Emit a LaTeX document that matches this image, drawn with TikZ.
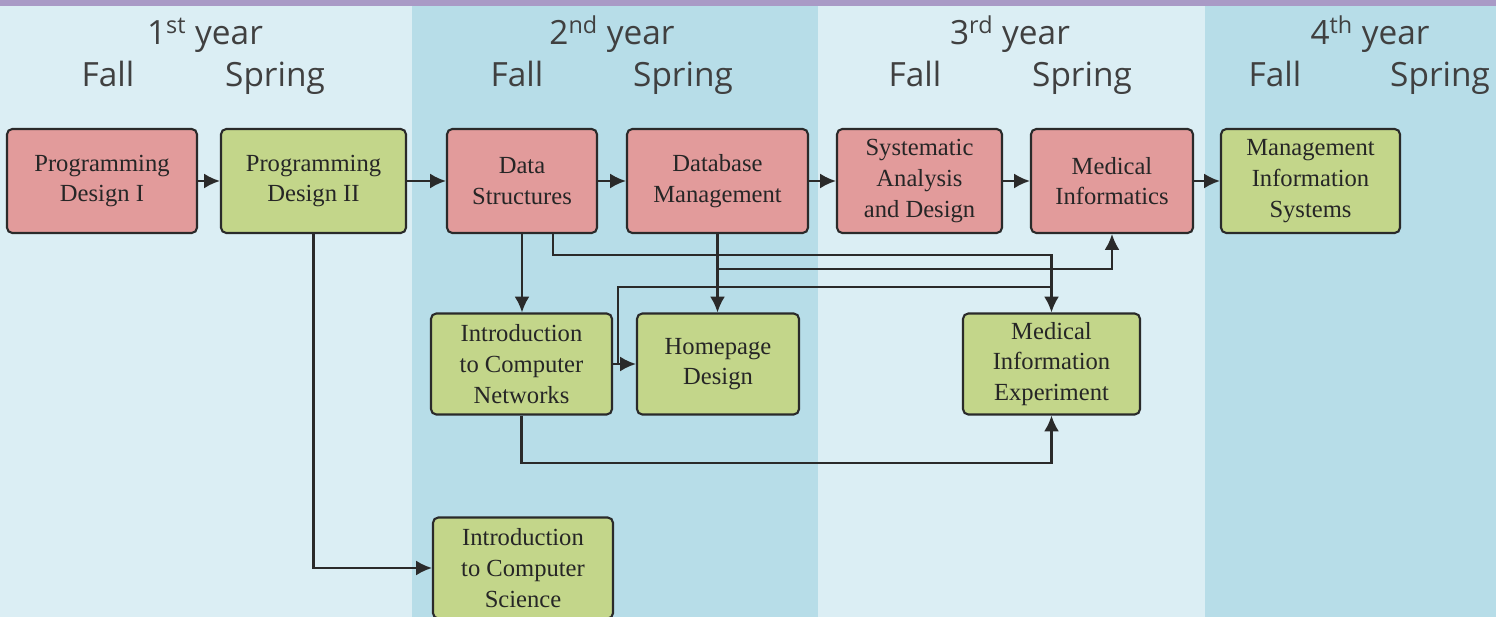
\documentclass[tikz,border=0pt]{standalone}
\usepackage{xcolor}
\usepackage{fontspec}
\setmainfont{Liberation Serif}
\newfontfamily\headfont{Open Sans}
\usepackage{tikz}
\usetikzlibrary{arrows.meta}

\definecolor{colpale}{HTML}{DBEEF4}
\definecolor{coldeep}{HTML}{B7DDE8}
\definecolor{barpurple}{HTML}{A99AC6}
\definecolor{corepink}{HTML}{E29B9B}
\definecolor{electgreen}{HTML}{C3D68A}
\definecolor{boxedge}{HTML}{2A2A2A}
\definecolor{headgray}{HTML}{404040}

\tikzset{
  course/.style={draw=boxedge, line width=1.2pt, rounded corners=3pt, align=center,
    inner sep=0pt, text=black!85, font=\fontsize{14}{17.5}\selectfont},
  core/.style={course, fill=corepink},
  elective/.style={course, fill=electgreen},
  toprow/.style={minimum height=2.08cm},
  lowrow/.style={minimum height=2.02cm},
  yearlbl/.style={anchor=base, text=headgray, font=\headfont\fontsize{19}{22}\selectfont},
  termlbl/.style={anchor=base, text=headgray, font=\headfont\fontsize{19}{22}\selectfont},
  wire/.style={draw=boxedge, line width=1.3pt},
  link/.style={wire, ->, >={Latex[length=9pt,width=8.5pt]}}
}

\begin{document}
\begin{tikzpicture}[x=0.02cm, y=-0.02cm]
    \clip (0,0) rectangle (1496,617);
    % year columns
    \fill[colpale] (0,0) rectangle (412,617);
    \fill[coldeep] (412,0) rectangle (818,617);
    \fill[colpale] (818,0) rectangle (1205,617);
    \fill[coldeep] (1205,0) rectangle (1496,617);
    \fill[barpurple] (0,0) rectangle (1496,6);

    % headers
    \node[yearlbl] (yr1) at (205,45) {1\textsuperscript{st} year};
    \node[yearlbl] (yr2) at (612,45) {2\textsuperscript{nd} year};
    \node[yearlbl] (yr3) at (1010,45) {3\textsuperscript{rd} year};
    \node[yearlbl] (yr4) at (1370,45) {4\textsuperscript{th} year};
    \node[termlbl] (fall1) at (108,87) {Fall};
    \node[termlbl] (spring1) at (275,87) {Spring};
    \node[termlbl] (fall2) at (517,87) {Fall};
    \node[termlbl] (spring2) at (683,87) {Spring};
    \node[termlbl] (fall3) at (915,87) {Fall};
    \node[termlbl] (spring3) at (1082,87) {Spring};
    \node[termlbl] (fall4) at (1275,87) {Fall};
    \node[termlbl] (spring4) at (1440,87) {Spring};

    % courses
    \node[core,toprow,minimum width=3.8cm] (pd1) at (102,181) {Programming\\Design I};
    \node[elective,toprow,minimum width=3.7cm] (pd2) at (313.5,181) {Programming\\Design II};
    \node[core,toprow,minimum width=3.0cm] (ds) at (522,181) {Data\\Structures};
    \node[core,toprow,minimum width=3.62cm] (dbm) at (717.5,181) {Database\\Management};
    \node[core,toprow,minimum width=3.3cm] (sad) at (919.5,181) {Systematic\\Analysis\\and Design};
    \node[core,toprow,minimum width=3.24cm] (mi) at (1112,181) {Medical\\Informatics};
    \node[elective,toprow,minimum width=3.58cm] (mis) at (1310.5,181) {Management\\Information\\Systems};
    \node[elective,lowrow,minimum width=3.62cm] (icn) at (521.5,364) {Introduction\\to Computer\\Networks};
    \node[elective,lowrow,minimum width=3.24cm] (hp) at (718,364) {Homepage\\Design};
    \node[elective,lowrow,minimum width=3.54cm] (mie) at (1051.5,364) {Medical\\Information\\Experiment};
    \node[elective,lowrow,minimum width=3.6cm] (ics) at (523,568) {Introduction\\to Computer\\Science};

    % routing levels
    \coordinate (busA) at (0,255);
    \coordinate (busB) at (0,269);
    \coordinate (busC) at (0,287);
    \coordinate (busD) at (0,463);

    % prerequisites
    \draw[link] (pd1) -- (pd2);
    \draw[link] (pd2) -- (ds);
    \draw[link] (ds) -- (dbm);
    \draw[link] (dbm) -- (sad);
    \draw[link] (sad) -- (mi);
    \draw[link] (mi) -- (mis);
    \draw[link] (ds.south) -- (ds.south |- icn.north);
    \draw[link] ([xshift=0.62cm]ds.south) |- (busA -| mie.north) -- (mie.north);
    \draw[link] (dbm.south) -- (dbm.south |- hp.north);
    \draw[link] (dbm.south |- busB) -| (mi.south);
    \draw[link] (icn) -- (hp);
    \draw[wire] ([xshift=0.1cm]icn.east) |- (busC -| mie.north);
    \draw[link] (icn.south) |- (busD -| mie.south) -- (mie.south);
    \draw[link] (pd2.south) |- (ics.west);
\end{tikzpicture}
\end{document}
